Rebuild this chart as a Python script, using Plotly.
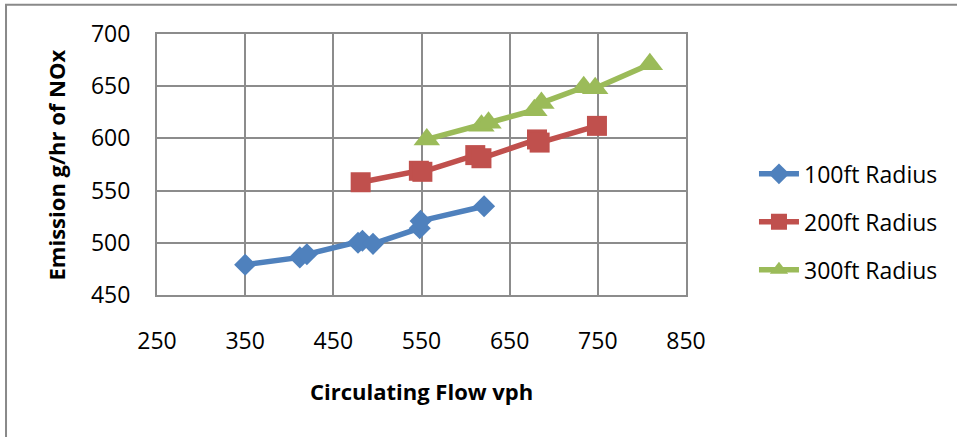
import plotly.graph_objects as go

# Data
series_names = ["100ft Radius", "200ft Radius", "300ft Radius"]

flow_100 = [350, 412, 420, 478, 483, 495, 548, 549, 621]
nox_100 = [479, 486, 489, 500, 502, 499, 514, 521, 535]

flow_200 = [481, 547, 551, 611, 618, 681, 684, 749]
nox_200 = [558, 569, 568, 584, 581, 599, 596, 612]

flow_300 = [556, 618, 626, 678, 686, 734, 747, 809]
nox_300 = [599, 612, 615, 627, 634, 649, 648, 671]

x_ticks = [250, 350, 450, 550, 650, 750, 850]
y_ticks = [450, 500, 550, 600, 650, 700]

colors = ["#4F81BD", "#C0504D", "#9BBB59"]
symbols = ["diamond", "square", "triangle-up"]
sizes = [17, 20, 23]

FONT = "Open Sans"
TICK_SIZE = 23

fig = go.Figure()
for i, (xs, ys) in enumerate([(flow_100, nox_100), (flow_200, nox_200), (flow_300, nox_300)]):
    fig.add_trace(go.Scatter(
        x=xs, y=ys, mode="lines+markers", name=series_names[i],
        legendgroup=f"g{i}",
        line=dict(color=colors[i], width=5.5),
        marker=dict(symbol=symbols[i], size=sizes[i], color=colors[i],
                    line=dict(width=0)),
        cliponaxis=False,
    ))

grid_col = "#8C8C8C"
fig.update_layout(
    width=957, height=437,
    margin=dict(l=157, r=271, t=34, b=142),
    paper_bgcolor="white", plot_bgcolor="white",
    font=dict(family=FONT, size=TICK_SIZE, color="black"),
    showlegend=True,
    legend=dict(
        x=1.1285, xanchor="left", xref="paper",
        y=0.28, yanchor="middle",
        traceorder="grouped", tracegroupgap=15,
        font=dict(family=FONT, size=TICK_SIZE, color="black"),
        bgcolor="rgba(0,0,0,0)", itemwidth=40,
    ),
    xaxis=dict(
        range=[250, 850], tickmode="array", tickvals=x_ticks,
        ticktext=[str(v) for v in x_ticks],
        showgrid=True, gridcolor=grid_col, gridwidth=2,
        showline=True, linecolor=grid_col, linewidth=2, mirror=True,
        zeroline=False, ticks="", ticklabelstandoff=24,
        tickfont=dict(family=FONT, size=TICK_SIZE, color="black"),
    ),
    yaxis=dict(
        range=[450, 700], tickmode="array", tickvals=y_ticks,
        ticktext=[str(v) for v in y_ticks],
        showgrid=True, gridcolor=grid_col, gridwidth=2,
        showline=True, linecolor=grid_col, linewidth=2, mirror=True,
        zeroline=False, ticks="", ticklabelstandoff=20,
        tickfont=dict(family=FONT, size=TICK_SIZE, color="black"),
    ),
    annotations=[
        dict(text="<b>Circulating Flow vph</b>", xref="paper", yref="paper",
             x=0.5, y=-0.368, xanchor="center", yanchor="middle", showarrow=False,
             font=dict(family=FONT, size=22, color="black")),
        dict(text="<b>Emission g/hr of NOx</b>", xref="paper", yref="paper",
             x=-0.191, y=0.5, xanchor="center", yanchor="middle", showarrow=False,
             textangle=-90, font=dict(family=FONT, size=22, color="black")),
    ],
    shapes=[
        dict(type="rect", xref="paper", yref="paper",
             x0=-0.2854, x1=1.53, y0=-0.57, y1=1.1124,
             line=dict(color="#898989", width=2), fillcolor="rgba(0,0,0,0)",
             layer="below"),
    ],
)

fig.write_html("out.html")
